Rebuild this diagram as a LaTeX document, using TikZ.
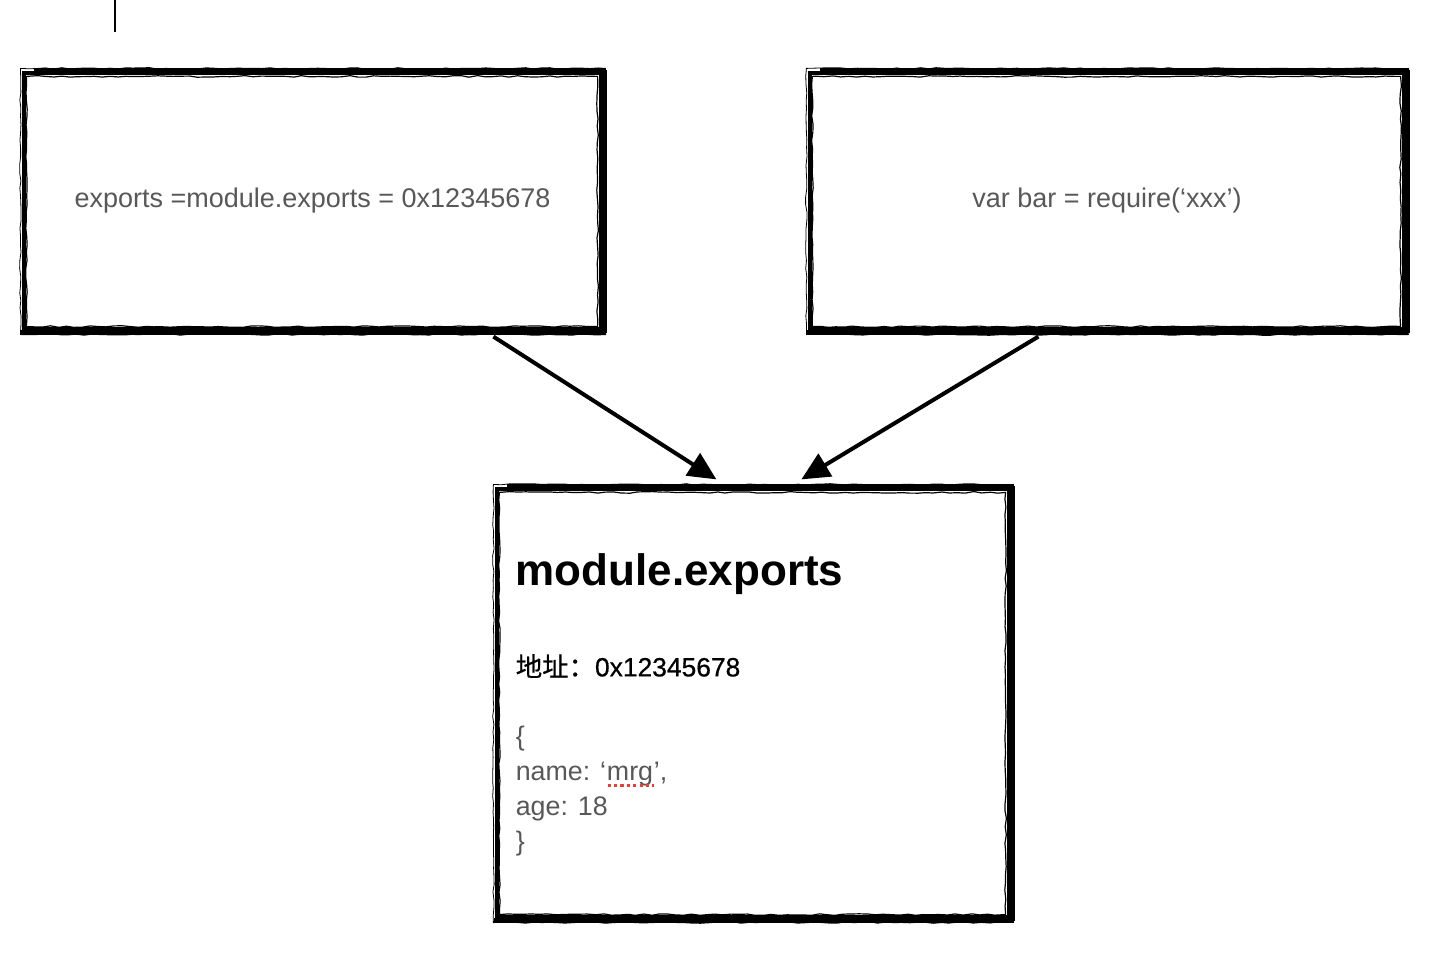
\documentclass[tikz,border=0pt]{standalone}
\usepackage{fontspec}
\setmainfont{Liberation Sans}
\newfontfamily\cjk{Noto Sans CJK SC}
\newfontfamily\heavysans[FakeBold=0.6]{Liberation Sans}
\newfontfamily\heavycjk[FakeBold=0.6]{Noto Sans CJK SC}
\usepackage{xcolor}
\usetikzlibrary{arrows.meta,positioning,calc,decorations.pathmorphing}
\definecolor{codegrey}{RGB}{88,88,88}
\definecolor{spellred}{RGB}{232,62,52}

\begin{document}
\begin{tikzpicture}[
    x=0.5pt, y=-0.5pt,
    sketchbox/.style={rectangle, draw, line width=1.6pt, inner sep=0pt},
    rough/.style={line width=0.6pt, decorate, decoration={random steps, segment length=4pt, amplitude=0.4pt}},
    boxtext/.style={font=\fontsize{13.5}{15}\selectfont, text=codegrey},
    codeline/.style={font=\fontsize{13.4}{15}\selectfont, text=codegrey, anchor=base west, inner sep=0pt},
    pointer/.style={-{Triangle[length=14pt, width=13pt]}, line width=2pt},
    squiggle/.style={draw=spellred, line width=1.3pt, dash pattern=on 1.6pt off 1.6pt}
]
\pgfmathsetseed{7}
\fill[white] (0,0) rectangle (1432,972);
\useasboundingbox (0,0) rectangle (1432,972);

% text caret
\coordinate (caret) at (115,0);
\draw[line width=1pt] (caret) -- ++(0,32);

% Boxes
\node[sketchbox, boxtext, minimum width=288.5pt, minimum height=128pt] (ex) at (312.5,201) {exports =module.exports = 0x12345678};
\node[sketchbox, boxtext, minimum width=297pt, minimum height=128pt] (req) at (1107,201) {var bar = require(‘xxx’)};
\node[sketchbox, minimum width=256pt, minimum height=214pt] (mod) at (753,703) {};

% Rough edges
\foreach \b in {ex,req,mod}{
  \draw[line width=2.6pt] ($(\b.north west)+(12,-1)$) -- ($(\b.north east)+(2,-1)$);
  \draw[line width=2pt] ($(\b.north east)+(2,-1)$) -- ($(\b.south east)+(2,2)$);
  \draw[line width=2.2pt] ($(\b.south west)+(-1,2)$) -- ($(\b.south east)+(2,2)$);
  \draw[rough] ($(\b.north west)+(4,5)$) rectangle ($(\b.south east)+(-5,-4)$);
  \draw[rough, line width=0.4pt] ($(\b.north west)+(-2,-3)$) rectangle ($(\b.south east)+(3,4)$);
}

% Contents of module.exports
\node[anchor=base west, inner sep=0pt, font=\bfseries\fontsize{22}{26}\selectfont] (title) at ($(mod.north west)+(20,98)$) {module.exports};
\node[anchor=base west, inner sep=0pt, font=\fontsize{13.2}{15}\selectfont] (addr) at ($(mod.north west)+(20,189)$) {{\heavycjk 地址：}{\heavysans 0x12345678}};
\node[codeline] (lb) at ($(mod.north west)+(20,258)$) {\{};
\node[codeline] (nm) at ($(mod.north west)+(20,293)$) {name: ‘};
\node[codeline] (mrg) at (nm.base east) {mrg};
\node[codeline] (cm) at (mrg.base east) {’,};
\node[codeline] (ag) at ($(mod.north west)+(20,328)$) {age: 18};
\node[codeline] (rb) at ($(mod.north west)+(20,363)$) {\}};
\draw[squiggle] ($(mrg.base west)+(1,5)$) -- ($(mrg.base east)+(0,5)$);

% Pointers
\coordinate (exfoot) at ($(ex.south west)+(471,6)$);
\coordinate (reqfoot) at ($(req.south west)+(230,6)$);
\coordinate (modin1) at ($(mod.north west)+(221,-8)$);
\coordinate (modin2) at ($(mod.north west)+(306,-8)$);
\draw[pointer] (exfoot) -- (modin1);
\draw[pointer] (reqfoot) -- (modin2);

\end{tikzpicture}
\end{document}
